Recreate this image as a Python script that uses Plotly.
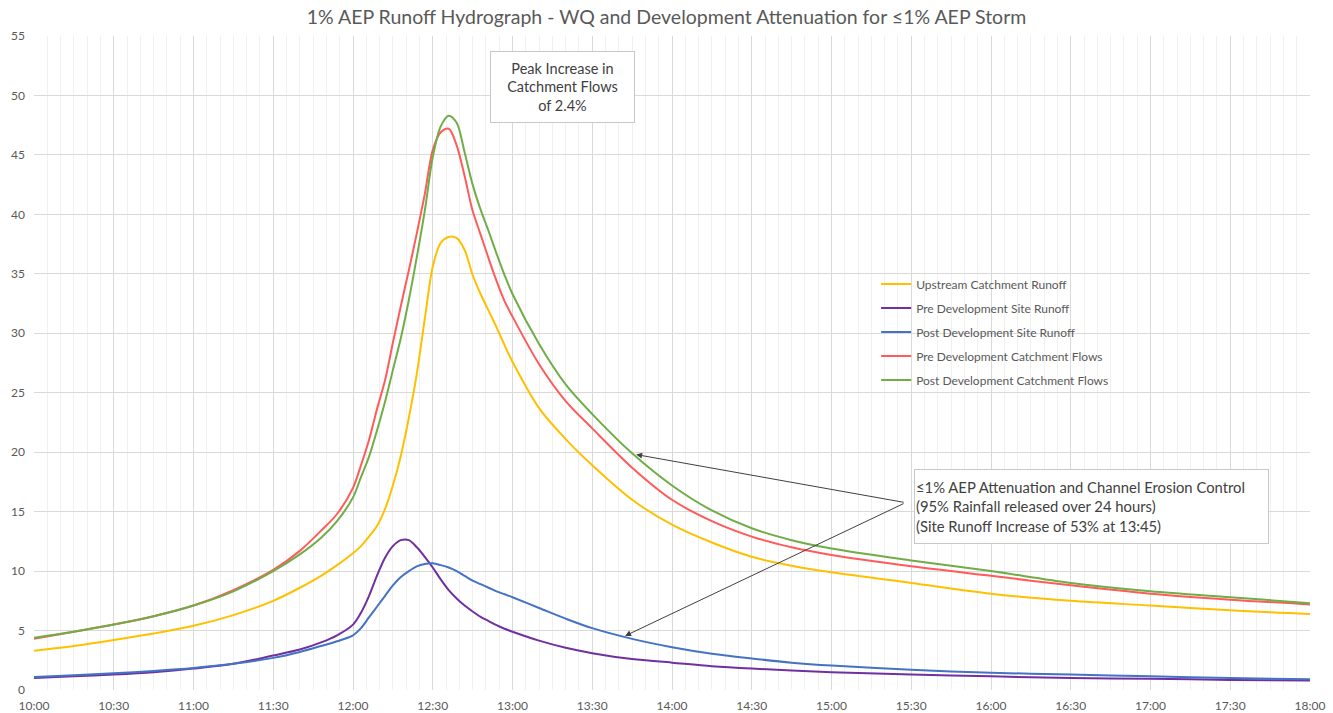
import plotly.graph_objects as go

times = ["10:00", "10:15", "10:30", "10:45", "11:00", "11:15", "11:30", "11:40", "11:48", "11:54",
         "12:00", "12:03", "12:06", "12:09", "12:12", "12:15", "12:18", "12:21", "12:24", "12:27",
         "12:30", "12:33", "12:36", "12:39", "12:42", "12:45", "12:48", "12:51", "12:54", "12:57",
         "13:00", "13:10", "13:20", "13:30", "13:45", "14:00", "14:15", "14:30", "14:45", "15:00",
         "15:30", "16:00", "16:30", "17:00", "17:30", "18:00"]

upstream_catchment = [3.3, 3.7, 4.2, 4.75, 5.4, 6.3, 7.5, 8.6, 9.6, 10.5,
                      11.5, 12.1, 12.9, 13.8, 15.2, 17.2, 19.7, 22.9, 26.6, 31.2,
                      35.6, 37.6, 38.1, 38.0, 37.0, 34.9, 33.3, 31.9, 30.5, 29.0,
                      27.6, 23.7, 21.1, 18.9, 16.0, 13.9, 12.4, 11.2, 10.45, 9.9,
                      9.0, 8.1, 7.5, 7.1, 6.7, 6.4]

pre_dev_site = [1.0, 1.15, 1.3, 1.5, 1.8, 2.2, 2.9, 3.4, 4.0, 4.6,
                5.5, 6.5, 7.9, 9.6, 11.1, 12.1, 12.6, 12.6, 12.0, 11.2,
                10.3, 9.3, 8.4, 7.7, 7.1, 6.6, 6.15, 5.8, 5.45, 5.15,
                4.9, 4.15, 3.55, 3.1, 2.6, 2.3, 2.0, 1.8, 1.65, 1.5,
                1.3, 1.15, 1.0, 0.95, 0.85, 0.8]

post_dev_site = [1.1, 1.25, 1.4, 1.6, 1.85, 2.2, 2.7, 3.2, 3.7, 4.1,
                 4.6, 5.2, 6.1, 7.0, 7.9, 8.8, 9.5, 10.0, 10.4, 10.6,
                 10.65, 10.5, 10.3, 10.0, 9.6, 9.2, 8.9, 8.6, 8.3, 8.05,
                 7.8, 6.9, 6.0, 5.2, 4.3, 3.6, 3.05, 2.65, 2.3, 2.05,
                 1.7, 1.45, 1.3, 1.15, 1.0, 0.9]

pre_dev_catchment = [4.3, 4.9, 5.5, 6.2, 7.1, 8.4, 10.1, 11.7, 13.4, 14.8,
                     17.0, 18.9, 21.0, 23.6, 26.0, 29.2, 32.3, 35.3, 38.4, 41.7,
                     45.4, 46.9, 47.2, 45.8, 43.2, 40.3, 38.3, 36.3, 34.4, 32.7,
                     31.4, 27.4, 24.3, 22.0, 18.7, 16.0, 14.2, 12.9, 12.0, 11.35,
                     10.4, 9.6, 8.8, 8.1, 7.6, 7.2]

post_dev_catchment = [4.4, 4.9, 5.5, 6.2, 7.1, 8.3, 10.0, 11.4, 12.8, 14.2,
                      16.2, 17.9, 19.6, 21.8, 24.2, 26.9, 29.6, 32.8, 36.4, 40.3,
                      44.8, 47.4, 48.3, 47.7, 45.2, 42.5, 40.4, 38.6, 36.7, 34.9,
                      33.3, 29.1, 25.7, 23.2, 19.9, 17.2, 15.1, 13.6, 12.6, 11.9,
                      10.9, 10.0, 9.0, 8.3, 7.8, 7.3]

series_names = ["Upstream Catchment Runoff", "Pre Development Site Runoff",
                "Post Development Site Runoff", "Pre Development Catchment Flows",
                "Post Development Catchment Flows"]
series_values = [upstream_catchment, pre_dev_site, post_dev_site,
                 pre_dev_catchment, post_dev_catchment]
series_colors = ["#FFC000", "#7030A0", "#4472C4", "#FF5B5B", "#70AD47"]

x_dates = ["2024-01-01 " + t for t in times]

FONT = "Lato"
GREY = "#595959"

fig = go.Figure()
for i, (name, vals, col) in enumerate(zip(series_names, series_values, series_colors)):
    fig.add_trace(go.Scatter(
        x=x_dates, y=vals, mode="lines", name=name,
        line=dict(color=col, width=2, shape="spline", smoothing=0.9),
        legendgroup=f"g{i}",
    ))

fig.update_layout(
    width=1333, height=713,
    margin=dict(l=34, r=23, t=36, b=23, autoexpand=False),
    paper_bgcolor="white", plot_bgcolor="white",
    font=dict(family=FONT, color=GREY, size=12),
    title=dict(text="1% AEP Runoff Hydrograph - WQ and Development Attenuation for \u22641% AEP Storm",
               x=0.5, xanchor="center", y=0.976, yanchor="middle",
               font=dict(family=FONT, size=19.5, color=GREY)),
    showlegend=True,
    legend=dict(x=0.660, y=0.643, xanchor="left", yanchor="top",
                bgcolor="rgba(255,255,255,0)", borderwidth=0,
                font=dict(family=FONT, size=12, color=GREY),
                tracegroupgap=5, itemwidth=30),
)

fig.update_xaxes(
    type="date", automargin=False,
    range=["2024-01-01 10:00", "2024-01-01 18:00"],
    dtick=30 * 60 * 1000, tick0="2024-01-01 10:00", tickformat="%H:%M",
    showgrid=True, gridcolor="#d9d9d9", gridwidth=1,
    minor=dict(dtick=5 * 60 * 1000, tick0="2024-01-01 10:00", showgrid=True,
               gridcolor="#f0f0f0", gridwidth=1),
    showline=False, zeroline=False, ticks="", ticklabelstandoff=7,
    tickfont=dict(family=FONT, size=12, color=GREY),
)
fig.update_yaxes(
    range=[0, 55], dtick=5, tick0=0, automargin=False,
    showgrid=True, gridcolor="#d9d9d9", gridwidth=1,
    showline=False, zeroline=False, ticks="", ticklabelstandoff=8,
    tickfont=dict(family=FONT, size=12, color=GREY),
)

fig.add_annotation(
    xref="paper", yref="paper", x=0.414, y=0.922, xanchor="center", yanchor="middle",
    text="Peak Increase in<br>Catchment Flows<br>of 2.4%", showarrow=False, align="center",
    font=dict(family=FONT, size=14.5, color="#404040"),
    bordercolor="#c8c8c8", borderwidth=1, bgcolor="white", width=141, height=68,
)
fig.add_annotation(
    xref="paper", yref="paper", x=0.8284, y=0.2806, xanchor="center", yanchor="middle",
    text="\u22641% AEP Attenuation and Channel Erosion Control<br>(95% Rainfall released over 24 hours)<br>(Site Runoff Increase of 53% at 13:45)",
    showarrow=False, align="left",
    font=dict(family=FONT, size=14.8, color="#404040"),
    bordercolor="#c8c8c8", borderwidth=1, bgcolor="white", width=351, height=71,
)
fig.add_annotation(x="2024-01-01 13:46:30", y=19.8, xref="x", yref="y", text="",
                   showarrow=True, arrowhead=2, arrowsize=1.2, arrowwidth=1, arrowcolor="#404040",
                   ax=269, ay=48)
fig.add_annotation(x="2024-01-01 13:42:20", y=4.55, xref="x", yref="y", text="",
                   showarrow=True, arrowhead=2, arrowsize=1.2, arrowwidth=1, arrowcolor="#404040",
                   ax=280, ay=-133)

fig.write_html("out.html", config={"displayModeBar": False},
               post_script="document.body.style.margin='0';document.body.style.overflow='hidden';")
